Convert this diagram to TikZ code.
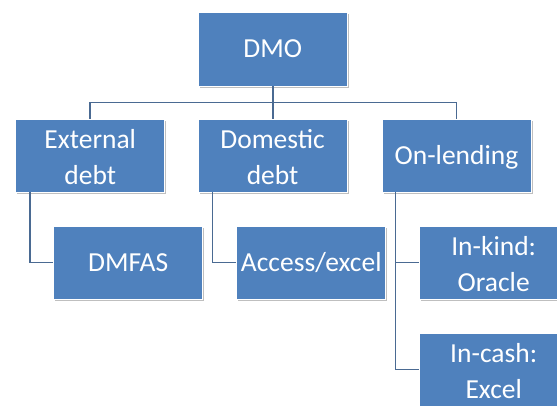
\documentclass[tikz,border=0pt]{standalone}
\usepackage{fontspec}
\setmainfont{Carlito}
\usetikzlibrary{shadows}
\definecolor{boxblue}{HTML}{4F81BD}
\definecolor{linecol}{HTML}{4A6A92}
\newcommand{\twolines}[2]{\rule{0pt}{22pt}#1\\#2}
\newcommand{\oneline}[1]{\rule[-6pt]{0pt}{29pt}#1}
\tikzset{
  orgbox/.style={rectangle, fill=boxblue, draw=white, line width=0.8pt,
    minimum width=149pt, minimum height=73pt, inner sep=0pt,
    text=white, align=center, font=\fontsize{27.5}{36}\selectfont,
    drop shadow={shadow xshift=1.5pt, shadow yshift=-1.5pt, fill=black, opacity=0.25}},
  conn/.style={draw=linecol, line width=1.6pt}
}
\begin{document}
\begin{tikzpicture}[x=1pt,y=-1pt]
\useasboundingbox (0,0) rectangle (557,405);
\clip (0,0) rectangle (557,405);
\fill[white] (0,0) rectangle (557,405);
\node[orgbox, minimum height=74pt] (dmo) at (272.7,49) {\oneline{DMO}};
\node[orgbox] (ext) at (90.25,155.5) {\twolines{External}{debt}};
\node[orgbox] (dom) at (272.6,155.5) {\twolines{Domestic}{debt}};
\node[orgbox] (onl) at (456.5,155.5) {\oneline{On-lending}};
\node[orgbox] (dmfas) at (128.2,262.5) {\oneline{DMFAS}};
\node[orgbox] (acc) at (311.2,262.5) {\oneline{Access/excel}};
\node[orgbox] (kind) at (493.7,262.5) {\twolines{In-kind:}{Oracle}};
\node[orgbox] (cash) at (493.7,369.5) {\twolines{In-cash:}{Excel}};
\draw[conn] (dmo.south) -- (dmo.south |- dom.north);
\draw[conn] (ext.north) -- ++(0,-16.3) -| (onl.north);
\draw[conn] ([xshift=-60.4pt]ext.south) |- (dmfas.west);
\draw[conn] ([xshift=-60pt]dom.south) |- (acc.west);
\draw[conn] ([xshift=-61pt]onl.south) |- (kind.west);
\draw[conn] ([xshift=-61pt]onl.south) |- (cash.west);
\end{tikzpicture}
\end{document}
